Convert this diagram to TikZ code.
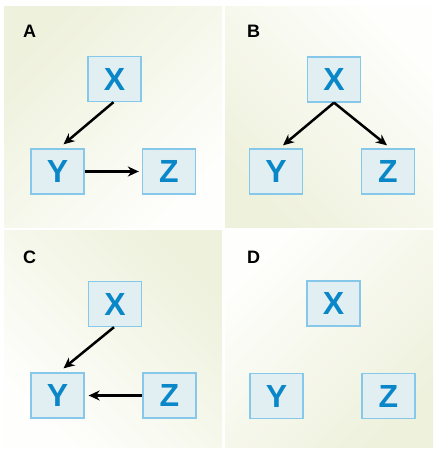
\documentclass[tikz,border=0pt]{standalone}
\usepackage{fontspec}
\setmainfont{Liberation Sans}
\usetikzlibrary{arrows.meta}

\definecolor{panelgreen}{HTML}{EEF1DC}
\definecolor{panelwhite}{HTML}{FEFEFC}
\definecolor{boxfill}{HTML}{E2EFF2}
\definecolor{boxline}{HTML}{86C8EA}
\definecolor{letterblue}{HTML}{0A87C9}

\tikzset{
  var/.style = {draw = boxline, line width = 1.3pt, fill = boxfill, minimum width = 53pt, minimum height = 45pt, inner sep = 0pt, text = letterblue, font = \fontsize{32}{32}\selectfont\bfseries},
  tag/.style = {anchor = north west, inner sep = 0pt, font = \fontsize{18}{18}\selectfont\bfseries},
  arr/.style = {-{Stealth[length = 11pt, width = 10pt, inset = 3.5pt]}, line width = 2.5pt},
  panel/.style = {shading = axis, top color = panelgreen, bottom color = panelwhite}
}

\begin{document}
\begin{tikzpicture}[x = 1pt, y = -1pt]
    \useasboundingbox (0, 0) rectangle (437, 452);

    \shade [panel, shading angle = 45] (4, 7) rectangle (222, 227);
    \shade [panel, shading angle = 135] (225, 7) rectangle (433, 227);
    \shade [panel, shading angle = -45] (4, 230) rectangle (222, 447);
    \shade [panel, shading angle = -135] (225, 230) rectangle (433, 447);

    \node [tag] (taga) at (23, 25) {A};
    \node [tag] (tagb) at (247, 25) {B};
    \node [tag] (tagc) at (23, 251) {C};
    \node [tag] (tagd) at (247, 251) {D};

    \node [var] (xa) at (114.5, 79) {X};
    \node [var] (ya) at (57.5, 171.5) {Y};
    \node [var] (za) at (169, 171.5) {Z};
    \draw [arr] ([xshift = -1pt]xa.south) -- ([xshift = 6pt, yshift = 4pt]ya.north);
    \draw [arr] (ya.east) -- ([xshift = -3pt]za.west);

    \node [var] (xb) at (334, 79.5) {X};
    \node [var] (yb) at (276, 171.5) {Y};
    \node [var] (zb) at (388, 171.5) {Z};
    \draw [arr] (xb.south) -- ([xshift = 7pt, yshift = 3pt]yb.north);
    \draw [arr] (xb.south) -- ([xshift = -1pt, yshift = 3pt]zb.north);

    \node [var] (xc) at (115, 304) {X};
    \node [var] (yc) at (57.5, 395.5) {Y};
    \node [var] (zc) at (169.5, 395.5) {Z};
    \draw [arr] ([xshift = -1pt]xc.south) -- ([xshift = 6pt, yshift = 4pt]yc.north);
    \draw [arr] (zc.west) -- ([xshift = 4pt]yc.east);

    \node [var] (xd) at (333.5, 303.5) {X};
    \node [var] (yd) at (276.5, 396) {Y};
    \node [var] (zd) at (388.5, 396) {Z};
\end{tikzpicture}
\end{document}
